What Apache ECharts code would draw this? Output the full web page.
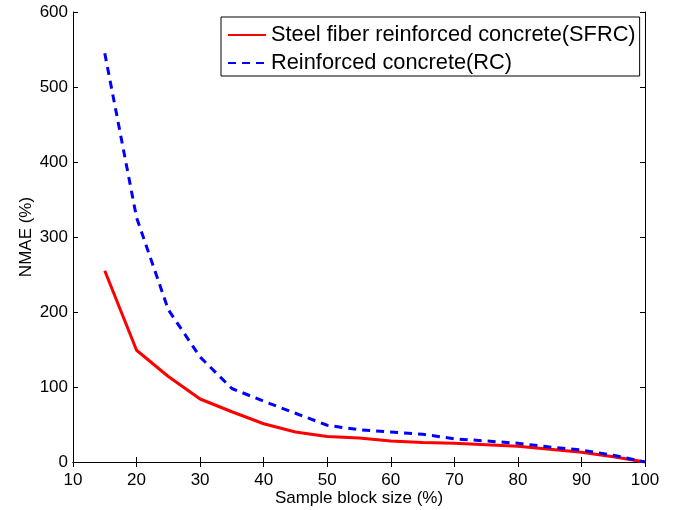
<!DOCTYPE html>
<html>
<head>
<meta charset="utf-8">
<script src="https://cdn.jsdelivr.net/npm/echarts@6/dist/echarts.min.js"></script>
<style>html,body{margin:0;padding:0;background:#fff}#c{width:676px;height:510px}</style>
</head>
<body>
<div id="c"></div>
<script>
const sampleSize = [15,20,25,30,35,40,45,50,55,60,65,70,75,80,85,90,95,100];
const sfrc = [255,149,114,84,67,51,40,34,32,28,26,25,23,21,17,13,7,0];
const rc   = [545,326,203,140,98,81,65,49,43,40,37,31,28,25,20,16,9,0];
const seriesNames = ['Steel fiber reinforced concrete(SFRC)','Reinforced concrete(RC)'];
const xTitle = 'Sample block size (%)';
const yTitle = 'NMAE (%)';

const font = 'Liberation Sans, Arial, Helvetica, sans-serif';
const chart = echarts.init(document.getElementById('c'));
const axisCommon = {
  axisLine:{show:true,lineStyle:{color:'#000',width:1}},
  axisTick:{show:true,inside:true,length:5,lineStyle:{color:'#000'}},
  splitLine:{show:false}
};
chart.setOption({
  animation:false,
  backgroundColor:'#fff',
  grid:{left:73,right:31,top:12,bottom:48,containLabel:false,outerBoundsMode:'none'},
  legend:{
    left:221, top:17, orient:'vertical',
    data:seriesNames,
    backgroundColor:'#fff', borderColor:'#000', borderWidth:1,
    padding:[7,4,2,6], itemGap:6, itemWidth:38, itemHeight:14,
    itemStyle:{opacity:0},
    textStyle:{fontFamily:font,fontSize:21.8,color:'#000'}
  },
  xAxis:[
    Object.assign({type:'value',min:10,max:100,interval:10,position:'bottom',
      name:xTitle,nameLocation:'middle',nameGap:28,nameMoveOverlap:false,
      nameTextStyle:{fontFamily:font,fontSize:17,color:'#000'},
      axisLabel:{fontFamily:font,fontSize:17,color:'#000',margin:10}},axisCommon),
    Object.assign({type:'value',min:10,max:100,interval:10,position:'top',axisLabel:{show:false}},axisCommon)
  ],
  yAxis:[
    Object.assign({type:'value',min:0,max:600,interval:100,position:'left',
      name:yTitle,nameLocation:'middle',nameGap:38,nameRotate:90,nameMoveOverlap:false,
      nameTextStyle:{fontFamily:font,fontSize:17,color:'#000'},
      axisLabel:{fontFamily:font,fontSize:17,color:'#000',margin:5}},axisCommon),
    Object.assign({type:'value',min:0,max:600,interval:100,position:'right',axisLabel:{show:false}},axisCommon)
  ],
  series:[
    {name:seriesNames[0],type:'line',symbol:'none',data:sampleSize.map((x,i)=>[x,sfrc[i]]),
     lineStyle:{color:'#ff0000',width:3},itemStyle:{color:'#ff0000'},z:3},
    {name:seriesNames[1],type:'line',symbol:'none',data:sampleSize.map((x,i)=>[x,rc[i]]),
     lineStyle:{color:'#0000ff',width:3,type:[8,6]},itemStyle:{color:'#0000ff'},z:4}
  ]
});
</script>
</body>
</html>
